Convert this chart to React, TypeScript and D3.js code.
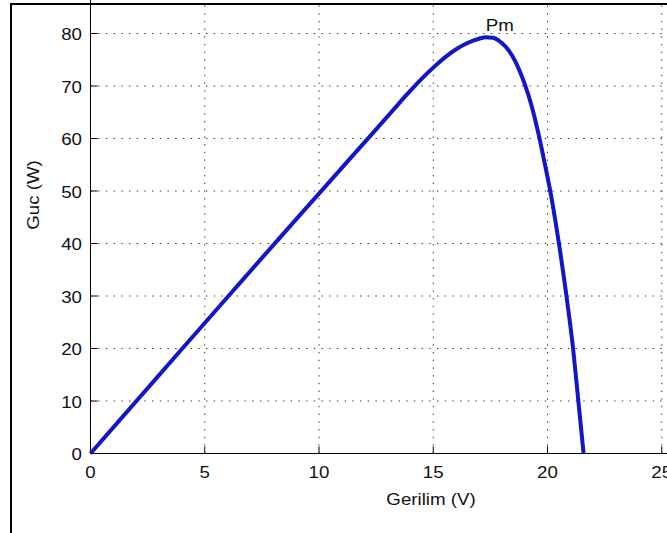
import React from "react";
import * as d3 from "d3";

const voltage = [0, 2, 4, 6, 8, 10, 12, 13, 13.5, 14, 14.5, 15, 15.5, 16, 16.5, 17, 17.3, 17.6, 18, 18.3, 18.6, 19, 19.3, 19.6, 19.9, 20.15, 20.5, 20.83, 21.12, 21.35, 21.58];
const power = [0, 9.95, 19.9, 29.8, 39.7, 49.5, 59.3, 64.2, 66.7, 69.1, 71.4, 73.5, 75.4, 77.0, 78.2, 79.0, 79.3, 79.2, 78.2, 76.8, 74.6, 70.4, 66.3, 61.0, 54.8, 49.3, 40, 30, 20, 10, 0];
const xTicks = [0, 5, 10, 15, 20, 25, 30];
const yTicks = [0, 10, 20, 30, 40, 50, 60, 70, 80];
const xLabel = "Gerilim (V)";
const yLabel = "Guc (W)";
const peakLabel = "Pm";

const W = 667;
const H = 533;
const FONT = "'Liberation Sans', Arial, Helvetica, sans-serif";
const FS = 17;
const SX = 1.1;

export default function App() {
  const x = d3.scaleLinear().domain([0, 30]).range([90.5, 90.5 + 30 * 22.85]);
  const y = d3.scaleLinear().domain([0, 100]).range([453.5, 453.5 - 100 * 5.25]);
  const pts = voltage.map((v, i) => [v, power[i]] as [number, number]);
  const line = d3
    .line<[number, number]>()
    .x((d) => x(d[0]))
    .y((d) => y(d[1]))
    .curve(d3.curveMonotoneX);
  const peakIdx = power.indexOf(d3.max(power) as number);
  const x0 = x(0), x1 = x(30), y0 = y(0), y1 = y(100);
  const grid = { stroke: "#333", strokeWidth: 1, strokeDasharray: "1.4 6.3" };
  const gridY = [...yTicks, 90];

  const txt = (tx: number, ty: number, s: string, anchor: string, key?: string, rot = 0) => (
    <text
      key={key}
      transform={`translate(${tx},${ty}) rotate(${rot}) scale(${SX},1)`}
      textAnchor={anchor as any}
      fontFamily={FONT}
      fontSize={FS}
      fill="#111"
    >
      {s}
    </text>
  );

  return (
    <svg width={W} height={H} style={{ position: "absolute", left: 0, top: 0, background: "#fff" }}>
      <rect x={0} y={0} width={W} height={H} fill="#fff" />
      {/* grid */}
      {xTicks.filter((t) => t > 0 && t < 30).map((t) => (
        <line key={"gx" + t} x1={x(t)} x2={x(t)} y1={y0} y2={y1} {...grid} />
      ))}
      {gridY.filter((t) => t > 0).map((t) => (
        <line key={"gy" + t} x1={x0} x2={x1} y1={y(t)} y2={y(t)} {...grid} />
      ))}
      {/* axes */}
      <line x1={x0} x2={x1} y1={y0} y2={y0} stroke="#000" strokeWidth={1} />
      <line x1={x0} x2={x0} y1={y0} y2={y1} stroke="#000" strokeWidth={1} />
      {xTicks.map((t) => (
        <line key={"tx" + t} x1={x(t)} x2={x(t)} y1={y0} y2={y0 - 7} stroke="#000" strokeWidth={1} />
      ))}
      {gridY.map((t) => (
        <line key={"ty" + t} x1={x0} x2={x0 + 7} y1={y(t)} y2={y(t)} stroke="#000" strokeWidth={1} />
      ))}
      {/* tick labels */}
      {xTicks.map((t) => txt(x(t), 478, String(t), "middle", "lx" + t))}
      {yTicks.map((t) => txt(82, y(t) + 6.5, String(t), "end", "ly" + t))}
      {/* axis labels */}
      {txt(431, 505, xLabel, "middle", "xl")}
      {txt(39, 195, yLabel, "middle", "yl", -90)}
      {/* curve */}
      <path d={line(pts) || ""} fill="none" stroke="#1414c8" strokeWidth={4} strokeLinejoin="round" />
      {txt(x(voltage[peakIdx]), 31, peakLabel, "start", "pm")}
      {/* frame */}
      <line x1={11} x2={11} y1={3} y2={H} stroke="#000" strokeWidth={2} />
      <line x1={10} x2={W} y1={4} y2={4} stroke="#000" strokeWidth={2} />
    </svg>
  );
}
